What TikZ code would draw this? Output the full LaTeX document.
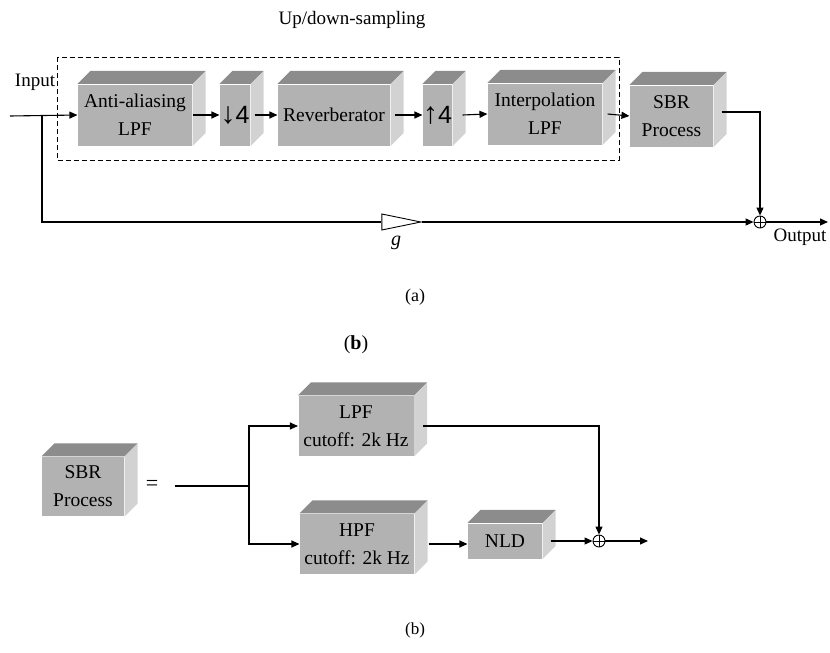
\documentclass[tikz,border=0pt]{standalone}
\usepackage{fontspec}
\setmainfont{Liberation Serif}
\newfontfamily\sansf{Liberation Sans}
\usetikzlibrary{arrows.meta,shapes.geometric,calc}
\definecolor{cfront}{RGB}{178,178,178}
\definecolor{ctop}{RGB}{140,140,140}
\definecolor{cside}{RGB}{210,210,210}
\newcommand{\boxfont}{\fontsize{19.5}{28}\selectfont}
\newcommand{\lblfont}{\fontsize{19}{22}\selectfont}
\newcommand{\samp}[1]{{\fontsize{30}{30}\selectfont #1}{\sansf\fontsize{25}{25}\selectfont 4}}
\begin{document}
\begin{tikzpicture}[x=1pt,y=-1pt, line width=1.1pt,
  arr/.style={-{Triangle[length=8pt,width=7pt]}},
  cube/.style={rectangle, fill=cfront, inner sep=0pt, align=center, font=\boxfont},
  dbox/.style={dash pattern=on 5pt off 3pt, line width=1pt},
  lbl/.style={inner sep=0pt, font=\lblfont},
  adder/.style={circle, draw, minimum size=12pt, inner sep=0pt, line width=0.9pt,
    path picture={\draw[line width=0.9pt] (path picture bounding box.north) -- (path picture bounding box.south)
      (path picture bounding box.west) -- (path picture bounding box.east);}},
  gainstyle/.style={draw, isosceles triangle, isosceles triangle stretches, shape border rotate=0,
    minimum width=16pt, minimum height=39pt, inner sep=0pt, line width=0.9pt}
]
\useasboundingbox (0,0) rectangle (830,653);

% ---------- (a) ----------
\node[lbl] (title) at (352,20) {Up/down-sampling};
\draw[dbox] (57,57) rectangle (619,160);
\node[lbl] (input) at (35,82) {Input};

\node[cube, minimum width=114pt, minimum height=61pt] (aa) at (135,115) {Anti-aliasing\\LPF};
\node[cube, minimum width=30pt, minimum height=61pt] (dn) at (235,115) {\samp{↓}};
\node[cube, minimum width=112pt, minimum height=61pt] (rev) at (334,115) {Reverberator};
\node[cube, minimum width=29pt, minimum height=61pt] (up) at (437.5,115) {\samp{↑}};
\node[cube, minimum width=114pt, minimum height=61pt] (interp) at (545,114) {Interpolation\\LPF};
\node[cube, minimum width=83pt, minimum height=61pt] (sbr) at (671.5,116) {SBR\\Process};

% ---------- (b) ----------
\node[cube, minimum width=82pt, minimum height=59pt] (sbrb) at (83,486.5) {SBR\\Process};
\node[cube, minimum width=115pt, minimum height=60pt] (lpf) at (356,426) {LPF\\cutoff: 2k Hz};
\node[cube, minimum width=114pt, minimum height=60pt] (hpf) at (357,544) {HPF\\cutoff: 2k Hz};
\node[cube, minimum width=74pt, minimum height=35pt] (nld) at (505,541) {NLD};

\foreach \n in {aa,dn,rev,up,interp,sbr,sbrb,lpf,hpf,nld} {
  \fill[ctop] (\n.north west) -- ++(13,-13) -- ($(\n.north east)+(13,-13)$) -- (\n.north east) -- cycle;
  \fill[cside] (\n.north east) -- ++(13,-13) -- ($(\n.south east)+(13,-13)$) -- (\n.south east) -- cycle;
}

% connectors (a)
\coordinate (inp) at (10,116);
\coordinate (br) at (42,116);
\node[gainstyle, anchor=apex] (gain) at (422,222) {};
\node[lbl, font=\fontsize{20}{22}\selectfont\itshape] (g) at (396,243) {g};
\node[adder] (add) at (760,222) {};
\coordinate (outa) at (828,222);
\node[lbl] (output) at (800,237) {Output};

\draw[arr] (inp) -- (aa.west);
\draw (br) |- (gain.west);
\draw[arr] (gain.apex) -- (add.west);
\draw[arr] (aa.east) -- (dn.west);
\draw[arr] ([xshift=4pt]dn.east) -- (rev.west);
\draw[arr] ([xshift=4pt]rev.east) -- (up.west);
\draw[arr] ([xshift=10pt]up.east) -- (interp.west);
\draw[arr] ([xshift=5pt]interp.east) -- (sbr.west);
\draw[arr] ([xshift=8pt,yshift=4pt]sbr.east) -| (add.north);
\draw[arr] (add.east) -- (outa);

% connectors (b)
\node[lbl, font=\fontsize{22}{22}\selectfont] (eq) at (152,485) {=};
\coordinate (s0) at (175,486);
\coordinate (split) at (249,486);
\node[adder] (add2) at (599,541) {};
\coordinate (outb) at (648,541);

\draw (s0) -- (split);
\draw[arr] (split) |- (lpf.west);
\draw[arr] (split) |- (hpf.west);
\draw[arr] ([xshift=14pt]hpf.east) -- (nld.west |- hpf.east);
\draw[arr] ([xshift=8pt]nld.east) -- (add2.west);
\draw[arr] ([xshift=9pt]lpf.east) -| (add2.north);
\draw[arr] (add2.east) -- (outb);

% captions
\node[lbl, font=\fontsize{18}{20}\selectfont] (capa) at (415,297) {(a)};
\node[lbl, font=\fontsize{20}{22}\selectfont] (capb1) at (356,345) {(\textbf{b})};
\node[lbl, font=\fontsize{17}{20}\selectfont] (capb2) at (415,630) {(b)};
\end{tikzpicture}
\end{document}
